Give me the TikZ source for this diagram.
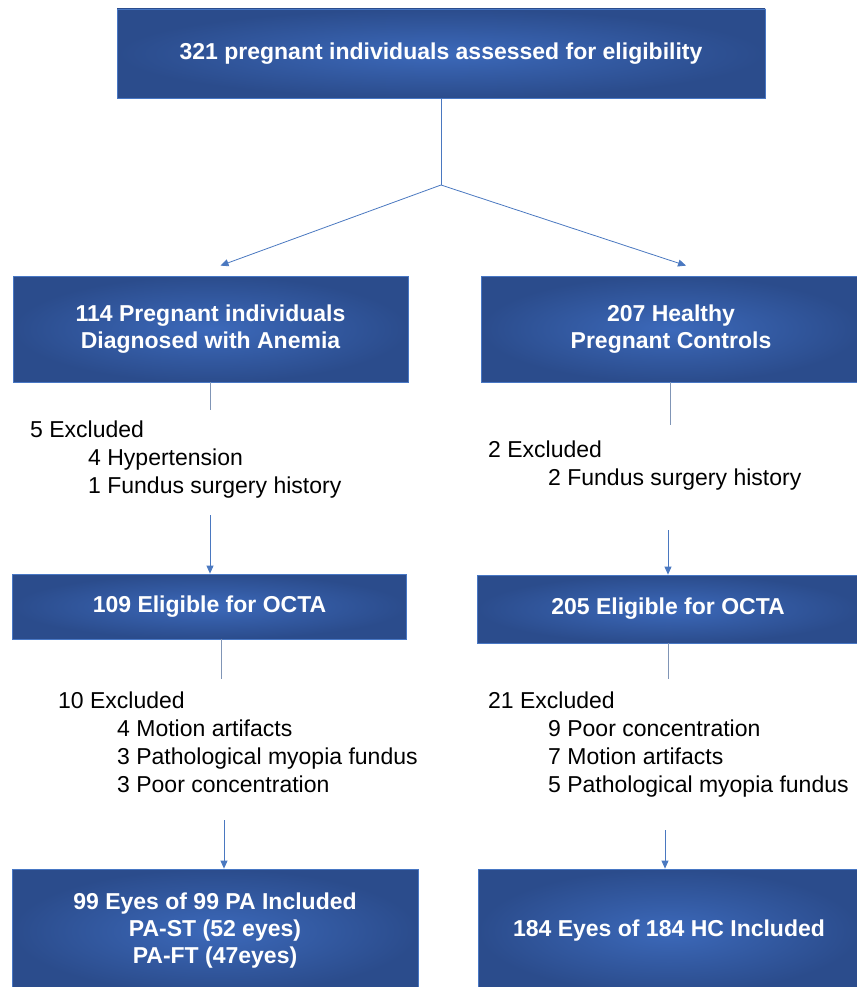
\documentclass[tikz,border=0pt]{standalone}
\usepackage{fontspec}
\setmainfont{Liberation Sans}
\usetikzlibrary{arrows.meta, positioning}
\definecolor{boxlight}{HTML}{3C69BA}
\definecolor{boxdark}{HTML}{2B4C8C}
\definecolor{boxedge}{HTML}{4877C4}
\definecolor{linkblue}{HTML}{4A78C0}
\definecolor{stemgray}{HTML}{8095B6}

\begin{document}
\begin{tikzpicture}
		[x=1pt, y=-1pt,
	stage/.style={draw=boxedge,line width=.8pt,rectangle,inner color=boxlight,outer color=boxdark,text=white,inner sep=0pt,align=center,font=\bfseries\fontsize{23}{27}\selectfont},
	excl/.style={anchor=base west,inner sep=0pt,font=\fontsize{23}{28}\selectfont},
	link/.style={draw=linkblue,line width=.8pt},
	stem/.style={draw=stemgray,line width=.8pt},
	>={Triangle[length=8pt,width=7pt]}
	]
		\useasboundingbox (0,0) rectangle (856,987);
		% boxes
		\node (screen) [stage,minimum width=648,minimum height=89] at (441,53.5) {321 pregnant individuals assessed for eligibility};
		\node (anemia) [stage,minimum width=395,minimum height=106] at (210.5,329) {114 Pregnant individuals\\Diagnosed with Anemia};
		\node (control) [stage,minimum width=380,minimum height=106] at (671,329) {207 Healthy\\Pregnant Controls};
		\node (eligA) [stage,minimum width=394,minimum height=65] at (209.5,606.5) {109 Eligible for OCTA};
		\node (eligB) [stage,minimum width=382,minimum height=68] at (668,609) {205 Eligible for OCTA};
		\node (incA) [stage,minimum width=406,minimum height=124] at (215,931) {99 Eyes of 99 PA Included\\PA-ST (52 eyes)\\PA-FT (47eyes)};
		\node (incB) [stage,minimum width=382,minimum height=124] at (669,931) {184 Eyes of 184 HC Included};
	
		% exclusions
		\node (exA) [excl] at (30,437) {5 Excluded};
		\node (exA1) [excl] at (88,465) {4 Hypertension};
		\node (exA2) [excl] at (88,493) {1 Fundus surgery history};
		\node (exB) [excl] at (488,457) {2 Excluded};
		\node (exB1) [excl] at (548,485) {2 Fundus surgery history};
		\node (exC) [excl] at (58,708) {10 Excluded};
		\node (exC1) [excl] at (117,736) {4 Motion artifacts};
		\node (exC2) [excl] at (117,764) {3 Pathological myopia fundus};
		\node (exC3) [excl] at (117,792) {3 Poor concentration};
		\node (exD) [excl] at (488,708) {21 Excluded};
		\node (exD1) [excl] at (548,736) {9 Poor concentration};
		\node (exD2) [excl] at (548,764) {7 Motion artifacts};
		\node (exD3) [excl] at (548,792) {5 Pathological myopia fundus};
	
		\coordinate (split) at (441,185);
		\coordinate (toA) at (210,515);
		\coordinate (toB) at (668,530);
		\coordinate (toC) at (224,820);
		\coordinate (toD) at (665,830);
	
		\draw [link] (screen.south) -- (split);
		\draw [link,->] (split) -- ([xshift=10pt,yshift=10pt]anemia.north);
		\draw [link,->] (split) -- ([xshift=15pt,yshift=10pt]control.north);
		\draw [stem] (anemia.south) -- ++(0,28);
		\draw [stem] ([xshift=-1pt]control.south) -- ++(0,43);
		\draw [link,->] (toA) -- (toA |- eligA.north);
		\draw [link,->] (toB) -- (toB |- eligB.north);
		\draw [stem] ([xshift=11.5pt]eligA.south) -- ++(0,40);
		\draw [stem] (eligB.south) -- ++(0,36);
		\draw [link,->] (toC) -- (toC |- incA.north);
		\draw [link,->] (toD) -- (toD |- incB.north);
	\end{tikzpicture}
\end{document}
